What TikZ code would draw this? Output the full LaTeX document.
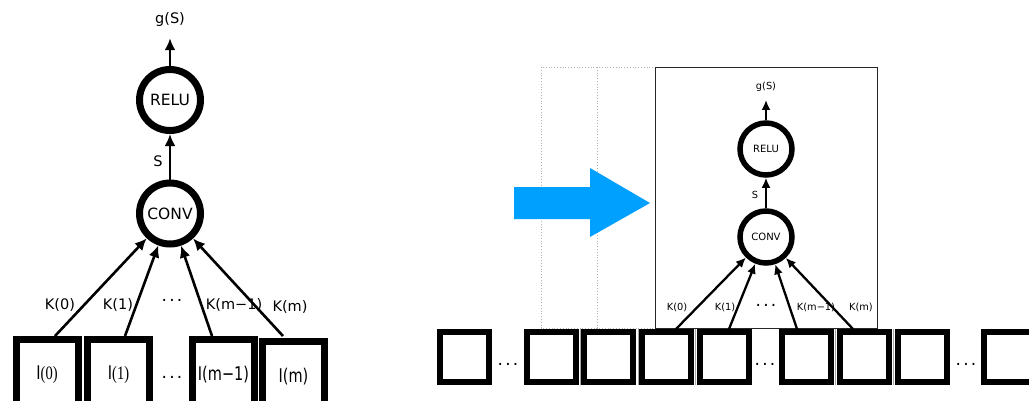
\documentclass[tikz,border=0pt]{standalone}
\usepackage{fontspec}
\setmainfont{DejaVu Sans}
\newfontfamily\serifdigits{Liberation Serif}
\usetikzlibrary{arrows.meta,calc}
\definecolor{skyblue}{RGB}{0,160,255}
\newcommand{\tallt}[1]{\scalebox{1}[1.3]{#1}}
\newcommand{\threedots}{.\hspace{2.2pt}.\hspace{2.2pt}.}
\begin{document}
\begin{tikzpicture}[x=1pt,y=-1pt,
  bigring/.style={circle,draw,line width=7pt,minimum size=61pt,inner sep=0pt,font=\fontsize{15.5}{17}\selectfont},
  smallring/.style={circle,draw,line width=5.5pt,minimum size=52pt,inner sep=0pt,font=\fontsize{10}{12}\selectfont},
  bigbox/.style={rectangle,draw,line width=7pt,minimum width=62pt,minimum height=71pt,inner sep=0pt,font=\fontsize{14.5}{16}\selectfont},
  cell/.style={rectangle,draw,line width=6pt,minimum width=49pt,minimum height=50pt,inner sep=0pt},
  sep/.style={draw=black!35,line width=0.8pt},
  bigarr/.style={line width=2.6pt,-{Latex[length=12pt,width=11pt]}},
  smallarr/.style={line width=2.3pt,-{Latex[length=10pt,width=9pt]}},
  biglbl/.style={font=\fontsize{14.5}{16}\selectfont,inner sep=0pt},
  smalllbl/.style={font=\fontsize{9.8}{12}\selectfont,inner sep=0pt},
  dotslbl/.style={font=\fontsize{17}{19}\selectfont,inner sep=0pt},
]
\useasboundingbox (0,0) rectangle (1029,400);
\clip (0,0) rectangle (1029,400);

% ---------- left diagram ----------
\node[bigring] (relu) at (170,100) {RELU};
\node[bigring] (conv) at (170,213.5) {CONV};
\node[biglbl] (gs) at (170,20) {g(S)};
\node[biglbl] (s) at (158,161) {S};
\draw[bigarr] (conv) -- (relu);
\draw[bigarr,shorten >=11pt] (relu) -- (gs);

\node[bigbox] (b0) at (47,375) {\tallt{I{\serifdigits(0)}}};
\node[bigbox] (b1) at (118.5,375) {\tallt{I{\serifdigits(1)}}};
\node[bigbox] (b2) at (223.5,375) {\tallt{I(m−1)}};
\node[bigbox] (b3) at (293.5,377) {\tallt{I(m)}};
\node[dotslbl] (bd) at (172,377) {\threedots};

\draw[bigarr] ($(b0.north)+(8,0)$) -- (conv);
\draw[bigarr] ($(b1.north)+(6.5,0)$) -- (conv);
\draw[bigarr] ($(b2.north)+(-11.5,0)$) -- (conv);
\draw[bigarr] ($(b3.north)+(-10.5,-2)$) -- (conv);

\node[biglbl] (k0) at (60,305) {K(0)};
\node[biglbl] (k1) at (118,305) {K(1)};
\node[dotslbl] (kd) at (172,300) {\threedots};
\node[biglbl] (km1) at (234,305) {K(m−1)};
\node[biglbl] (km) at (290,307) {K(m)};

% ---------- right diagram ----------
\draw[black!30,dotted,line width=0.8pt] (541,67) rectangle (763,328);
\draw[black!30,dotted,line width=0.8pt] (597,67) rectangle (819,328);
\draw[black!85,line width=1pt,fill=white] (655,67) rectangle (877,328);

% ---------- big blue arrow ----------
\fill[skyblue] (514,187) -- (590,187) -- (590,168) -- (650,203) -- (590,237) -- (590,219) -- (514,219) -- cycle;

\node[smallring] (relu2) at (766,149) {RELU};
\node[smallring] (conv2) at (766,237) {CONV};
\node[smalllbl] (gs2) at (766,87) {g(S)};
\node[smalllbl] (s2) at (755,195) {S};
\draw[smallarr] (conv2) -- (relu2);
\draw[smallarr,shorten >=8pt] (relu2) -- (gs2);

\node[cell] (c0) at (464.5,357) {};
\node[cell] (c1) at (551.5,357) {};
\node[cell] (c2) at (608.5,357) {};
\node[cell] (c3) at (666.5,357) {};
\node[cell] (c4) at (724.5,357) {};
\node[cell] (c5) at (806.5,357) {};
\node[cell] (c6) at (864.5,357) {};
\node[cell] (c7) at (922.5,357) {};
\node[cell] (c8) at (1008.5,357) {};
\foreach \xs in {580.5,638,695.5,835.5,893.5}
  \draw[sep] (\xs,329) -- (\xs,385);

\node[dotslbl] (d0) at (508,364) {\threedots};
\node[dotslbl] (d1) at (765,364) {\threedots};
\node[dotslbl] (d2) at (966,364) {\threedots};

\draw[smallarr] ($(c3.north)+(9.5,0)$) -- (conv2);
\draw[smallarr] ($(c4.north)+(4.5,0)$) -- (conv2);
\draw[smallarr] ($(c5.north)+(-9.5,0)$) -- (conv2);
\draw[smallarr] ($(c6.north)+(-11.5,0)$) -- (conv2);

\node[smalllbl] (rk0) at (677,307) {K(0)};
\node[smalllbl] (rk1) at (725,307) {K(1)};
\node[dotslbl] (rkd) at (766,305) {\threedots};
\node[smalllbl] (rkm1) at (816,307) {K(m−1)};
\node[smalllbl] (rkm) at (861,307) {K(m)};
\end{tikzpicture}
\end{document}
